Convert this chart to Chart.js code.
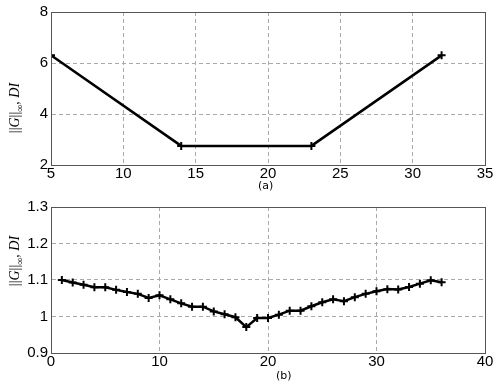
<!DOCTYPE html>
<html><head><meta charset="utf-8">
<script src="https://cdn.jsdelivr.net/npm/chart.js@4/dist/chart.umd.min.js"></script>
<style>
body{margin:0;background:#fff;width:498px;height:386px;overflow:hidden;position:relative;font-family:"Liberation Sans",Arial,sans-serif}
#c1{position:absolute;left:0;top:0}
#c2{position:absolute;left:0;top:195px}
.lab{position:absolute;font-family:"DejaVu Sans",sans-serif;font-size:11px;color:#000}
.yt{position:absolute;font-family:"Liberation Serif","DejaVu Serif",serif;font-size:14px;white-space:nowrap;transform:translate(-50%,-50%) rotate(-90deg);color:#000}
.yt sub{font-size:10px;font-style:normal}
</style></head><body>
<canvas id="c1" width="498" height="195"></canvas>
<canvas id="c2" width="498" height="191"></canvas>
<div class="lab" style="left:258px;top:179px">(a)</div>
<div class="lab" style="left:276px;top:369px">(b)</div>
<div class="yt" style="left:16px;top:108px">||<i>G</i>||<sub>∞</sub>, <i>DI</i></div>
<div class="yt" style="left:16px;top:261px">||<i>G</i>||<sub>∞</sub>, <i>DI</i></div>
<script>
const topX = [5, 14, 23, 32];
const topY = [6.3, 2.75, 2.75, 6.3];
const topXTicks = [5, 10, 15, 20, 25, 30, 35];
const topYTicks = [2, 4, 6, 8];

const botX = [1,2,3,4,5,6,7,8,9,10,11,12,13,14,15,16,17,18,19,20,21,22,23,24,25,26,27,28,29,30,31,32,33,34,35,36];
const botY = [1.100,1.093,1.087,1.080,1.080,1.073,1.067,1.062,1.051,1.058,1.047,1.036,1.027,1.027,1.014,1.006,0.998,0.971,0.996,0.996,1.005,1.016,1.016,1.028,1.039,1.047,1.042,1.053,1.062,1.069,1.075,1.074,1.081,1.090,1.099,1.094];
const botXTicks = [0, 10, 20, 30, 40];
const botYTicks = [0.9, 1.0, 1.1, 1.2, 1.3];

const frame = {
  id:'frame',
  afterDraw(c){
    const a=c.chartArea, x=c.ctx;
    x.save(); x.setLineDash([]); x.strokeStyle='#555'; x.lineWidth=1;
    x.strokeRect(Math.round(a.left)+0.5, Math.round(a.top)+0.5, Math.round(a.right-a.left), Math.round(a.bottom-a.top));
    x.restore();
  }
};

function fmt(v){ return String(Math.round(v*1000)/1000); }

function make(id, xs, ys, xt, yt, padTop, xH, xmin, xmax, ymin, ymax){
  return new Chart(document.getElementById(id), {
    type:'line',
    data:{datasets:[{data:xs.map((v,i)=>({x:v,y:ys[i]})), borderColor:'#000', borderWidth:2.5,
      pointStyle:'cross', pointRadius:4, pointBorderWidth:2, pointBorderColor:'#000', tension:0}]},
    options:{
      responsive:false, animation:false,
      layout:{padding:{top:padTop, right:13, left:0, bottom:0}},
      plugins:{legend:{display:false}, tooltip:{enabled:false}},
      scales:{
        x:{type:'linear', min:xmin, max:xmax,
          afterBuildTicks(s){s.ticks=xt.map(v=>({value:v}));},
          afterFit(s){s.height=xH;},
          ticks:{color:'#000', font:{family:'"Liberation Sans", Arial', size:15}, padding:0, maxRotation:0, callback:fmt},
          grid:{color:'#aaa', drawTicks:false, lineWidth:1},
          border:{display:true, color:'#555', dash:[4,3]}},
        y:{type:'linear', min:ymin, max:ymax,
          afterBuildTicks(s){s.ticks=yt.map(v=>({value:v}));},
          afterFit(s){s.width=51;},
          ticks:{color:'#000', font:{family:'"Liberation Sans", Arial', size:15}, padding:3, callback:fmt},
          grid:{color:'#aaa', drawTicks:false, lineWidth:1},
          border:{display:true, color:'#555', dash:[4,3]}}
      }
    },
    plugins:[frame]
  });
}
const c1 = make('c1', topX, topY, topXTicks, topYTicks, 10, 30, 5, 35, 2, 8);
const c2 = make('c2', botX, botY, botXTicks, botYTicks, 8, 33, 0, 40, 0.9, 1.3);
</script>
</body></html>
